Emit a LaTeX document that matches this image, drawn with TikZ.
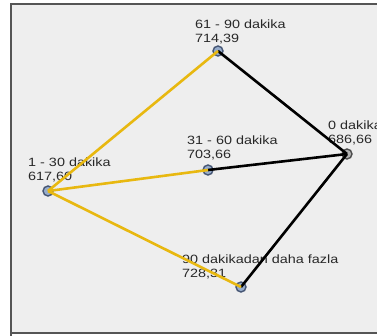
\documentclass[tikz,border=0pt]{standalone}
\usepackage{fontspec}
\setmainfont[FakeStretch=1.2]{Liberation Sans}
\usepackage{tikz}
\usetikzlibrary{positioning,calc}
\definecolor{gold}{RGB}{232,184,16}
\definecolor{frame}{RGB}{85,85,85}
\definecolor{panel}{RGB}{238,238,238}
\definecolor{ptfill}{RGB}{150,172,204}
\definecolor{ptline}{RGB}{70,86,116}
\definecolor{txt}{RGB}{40,40,40}

\begin{document}
\begin{tikzpicture}[
    x=1pt, y=-1pt,
    font=\fontsize{12}{13.4}\selectfont,
    pt/.style={circle, draw=ptline, fill=ptfill, line width=1.4pt,
               minimum size=10pt, inner sep=0pt},
    lbl/.style={anchor=base west, align=left, inner sep=0pt,
                text=txt},
    goldln/.style={draw=gold, line width=2.6pt},
    blkln/.style={draw=black, line width=2.6pt}
  ]
    \useasboundingbox (0,0) rectangle (377,335);
    \fill[white] (0,0) rectangle (377,335);
    \fill[panel] (11,4) rectangle (377,333);
    \draw[frame, line width=2pt] (11,400) -- (11,4) -- (400,4);
    \draw[frame, line width=2pt] (11,333) -- (400,333);
    \begin{scope}
    \clip (12,5) rectangle (377,332);
    % points
    \node[pt] (A) at (48,191) {};
    \node[pt] (B) at (208,170) {};
    \node[pt] (C) at (218,51) {};
    \node[pt, draw=black!70, fill=black!30] (O) at (347,154) {};
    \node[pt] (E) at (241,287) {};
    % labels (base = last line)
    \node[lbl] (lA) at (28,180) {1 - 30 dakika\\617,60};
    \node[lbl] (lB) at (187,158) {31 - 60 dakika\\703,66};
    \node[lbl] (lC) at (195,42) {61 - 90 dakika\\714,39};
    \node[lbl] (lO) at (328,143) {0 dakika\\686,66};
    \node[lbl] (lE) at (182,277) {90 dakikadan daha fazla\\728,31};
    % links
    \draw[blkln] (C.center) -- (O.center);
    \draw[blkln] (B.center) -- (O.center);
    \draw[blkln] (E.center) -- (O.center);
    \draw[goldln] (A.center) -- (C.center);
    \draw[goldln] (A.center) -- (B.center);
    \draw[goldln] (A.center) -- (E.center);
    \end{scope}
  \end{tikzpicture}
\end{document}
